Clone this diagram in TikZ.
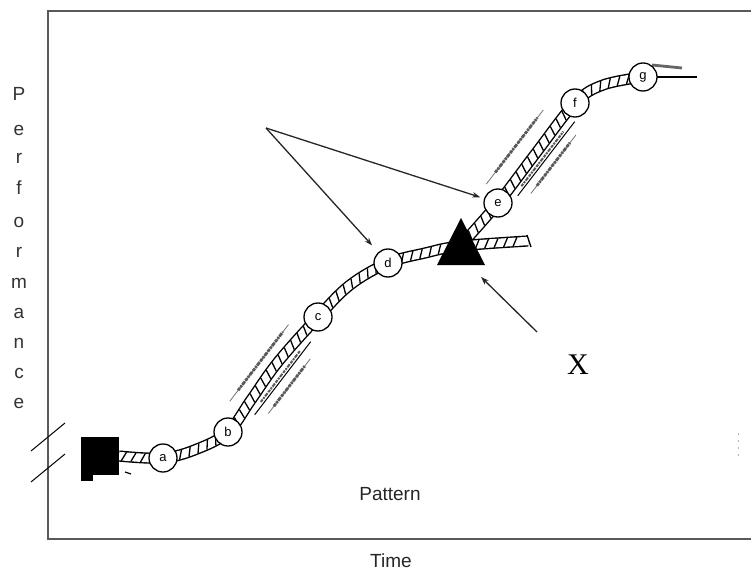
\documentclass[tikz,border=0pt]{standalone}
\usepackage{fontspec}
\setmainfont{Liberation Serif}
\newfontfamily\arialf{Liberation Sans}
\usetikzlibrary{arrows.meta,decorations.markings,calc}
\begin{document}
\begin{tikzpicture}[x=1pt,y=-1pt,
  frame/.style={draw=black!65, line width=2pt},
  bandline/.style={draw=black, line width=1.4pt, double=white, double distance=8.4pt},
  rungs/.style={decorate, decoration={markings, mark=between positions 0.01 and 0.99 step 9.5pt with {\draw[black, line width=1.3pt] (-2.2pt,-4.4pt) -- (2.2pt,4.4pt);}}},
  circ/.style={circle, draw=black, line width=1.3pt, fill=white, minimum size=28pt, inner sep=0pt, font=\arialf\fontsize{13}{13}\selectfont},
  thinl/.style={draw=black!55, line width=0.8pt},
  boxl/.style={draw=black, line width=1pt},
  txt/.style={draw=black!65, line width=2.8pt, dash pattern=on 3pt off 1pt on 2pt off 1pt on 4pt off 1.2pt},
  arr/.style={draw=black!85, line width=1.3pt, -{Stealth[length=8pt,width=5.5pt]}},
  perf/.style={font=\arialf\fontsize{19}{19}\selectfont, text=black!80, inner sep=0pt},
  lab/.style={font=\arialf\fontsize{19}{19}\selectfont, text=black!85, inner sep=0pt}
]
\useasboundingbox (0,0) rectangle (751,572);
\fill[white] (0,0) rectangle (751,572);

% frame
\draw[frame] (751,11) -- (48,11) -- (48,539) -- (751,539);
\draw[black!30, line width=1pt, dash pattern=on 2pt off 5pt] (738,433) -- (738,460);

% axis break marks
\draw[black, line width=1pt] (31,451) -- (65,423);
\draw[black, line width=1pt] (31,482) -- (65,454);

% bands
\def\bandmain{plot[smooth, tension=0.6] coordinates {(119,456) (163,458) (197,449) (228,432) (251,400) (278,362) (318,317) (350,285) (388,263) (425,253) (460,246) (528,241)}}
\def\bandup{plot[smooth, tension=0.6] coordinates {(462,244) (498,203) (536,153) (575,103) (603,85) (643,77)}}
\draw[bandline] \bandup;
\path[rungs] \bandup;
\draw[bandline] \bandmain;
\path[rungs] \bandmain;
\draw[black, line width=1.3pt] (527,235) -- (531,247);

% lines beyond g
\draw[black!60, line width=2.8pt] (652,65) -- (682,68);
\draw[black, line width=1.4pt] (655,77) -- (697,77);

% labels along b-c
\draw[thinl] (229.7,401.3) -- (288.5,324.6);
\draw[txt] (238.1,390.3) -- (282.9,331.9);
\draw[boxl] (254.7,414.7) -- (310.7,341.7);
\draw[txt, line width=2pt] (260.8,401.9) -- (300,350.9);
\draw[thinl] (268.3,413.5) -- (310.3,358.8);
\draw[txt] (273.9,406.2) -- (304.7,366.1);

% labels along e-f
\draw[thinl] (486.3,184.1) -- (543.3,110);
\draw[txt] (495.3,172.4) -- (537.3,117.8);
\draw[boxl] (517.7,195.8) -- (574.7,121.7);
\draw[txt, line width=2pt] (521.4,186.2) -- (563.4,131.6);
\draw[thinl] (530.9,193.5) -- (575.9,135);
\draw[txt] (536.9,185.7) -- (569.9,142.8);

% circles
\node[circ] (a) at (163,458) {a};
\node[circ] (b) at (228,432) {b};
\node[circ] (c) at (318,317) {c};
\node[circ] (d) at (388,263) {d};
\node[circ] (e) at (498,203) {e};
\node[circ] (f) at (575,103) {f};
\node[circ] (g) at (643,77) {g};

% square and triangle
\fill[black] (81,437) rectangle (119,475);
\fill[black] (81,475) rectangle (93,481);
\draw[black, line width=1.2pt] (125,472) -- (131,474);
\fill[black] (437,265) -- (461,218) -- (485,265) -- cycle;

% arrows
\coordinate (src) at (266,128);
\draw[arr, shorten >=9pt] (src) -- (d);
\draw[arr, shorten >=4pt] (src) -- (e);
\coordinate (xs) at (537,332);
\coordinate (xt) at (481,277);
\draw[arr] (xs) -- (xt);

% texts
\node[font=\fontsize{30}{30}\selectfont, inner sep=0pt] (xlab) at (578,365) {X};
\node[lab] (pattern) at (390,494) {Pattern};
\node[lab] (time) at (391,561) {Time};
\foreach \l/\yy [count=\i] in {P/94,e/130,r/158,f/188,o/222,r/252,m/283,a/313,n/343,c/373,e/403}
  \node[perf] (perf\i) at (19,\yy) {\l};
\end{tikzpicture}
\end{document}
